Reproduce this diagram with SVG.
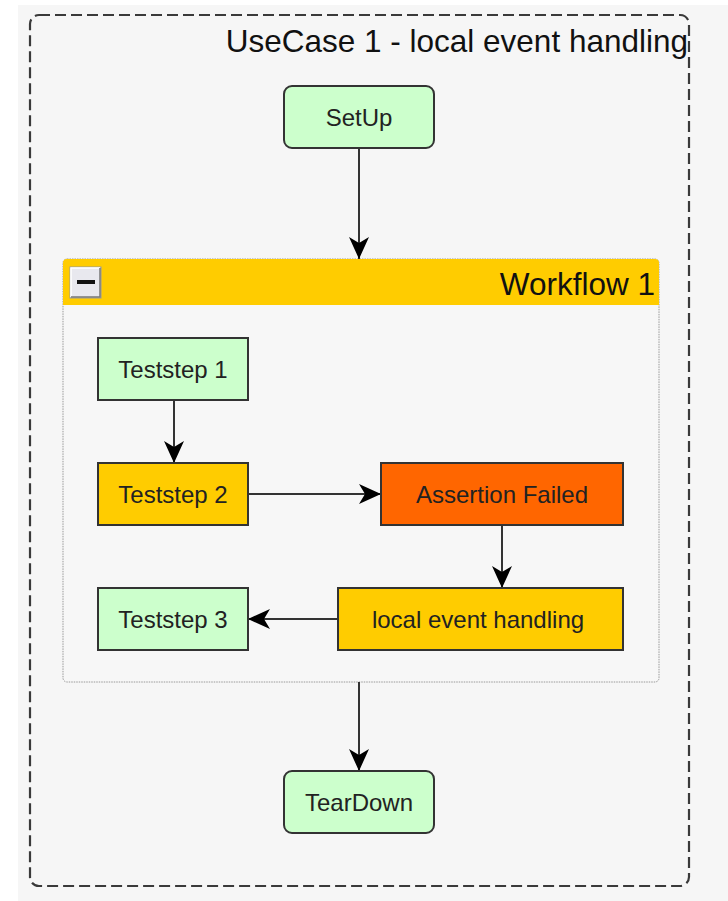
<svg xmlns="http://www.w3.org/2000/svg" width="728" height="901" viewBox="0 0 728 901">
  <style>
    .lbl { font-family: "Liberation Sans", Arial, sans-serif; font-size: 24px; fill: #222; text-anchor: middle; }
    .title { font-family: "Liberation Sans", Arial, sans-serif; font-size: 31.5px; fill: #111; text-anchor: end; }
    .box { stroke: #333; stroke-width: 2; }
    .green { fill: #ccffcc; }
    .amber { fill: #ffcc00; }
    .red { fill: #ff6600; }
    .edge { fill: none; stroke: #333; stroke-width: 2; marker-end: url(#arrow); }
  </style>
  <defs>
    <marker id="arrow" viewBox="0 0 22 20" refX="22" refY="10" markerWidth="22" markerHeight="20" markerUnits="userSpaceOnUse" orient="auto">
      <path d="M0,0 L22,10 L0,20 L6,10 z" fill="#000"/>
    </marker>
  </defs>

  <!-- page background -->
  <rect x="18" y="5" width="710" height="896" fill="#f6f6f6"/>

  <!-- use case frame -->
  <g id="usecase">
    <rect x="30" y="15" width="659" height="871" rx="9" fill="none" stroke="#3a3a3a" stroke-width="2.2" stroke-dasharray="11 5"/>
    <text class="title" x="688" y="52">UseCase 1 - local event handling</text>
  </g>

  <!-- workflow container -->
  <g id="workflow">
    <rect x="63" y="259" width="596" height="423" rx="4" fill="#f7f7f7" stroke="#999" stroke-width="1" stroke-dasharray="1.5 1"/>
    <path d="M63,305 V263 a4,4 0 0 1 4,-4 H655 a4,4 0 0 1 4,4 V305 z" fill="#ffcc00"/>
    <text class="title" x="655" y="295">Workflow 1</text>
    <g id="collapse-button">
      <rect x="70" y="267" width="31" height="31" fill="#e8e8ee" stroke="#999" stroke-width="1"/>
      <path d="M71,297 V268 H100" fill="none" stroke="#fff" stroke-width="1.5"/>
      <path d="M71,297 H100 V268" fill="none" stroke="#777" stroke-width="1.5"/>
      <rect x="77" y="280" width="18" height="4" fill="#111"/>
    </g>
  </g>

  <!-- connectors -->
  <g id="edges">
    <path class="edge" d="M359,148 V259"/>
    <path class="edge" d="M174,400 V463"/>
    <path class="edge" d="M248,494 H381"/>
    <path class="edge" d="M502,525 V588"/>
    <path class="edge" d="M338,619 H248"/>
    <path class="edge" d="M359,682 V771"/>
  </g>

  <g id="setup">
    <rect class="box green" x="284" y="86" width="150" height="62" rx="8"/>
    <text class="lbl" x="359" y="126">SetUp</text>
  </g>

  <g id="teststep1">
    <rect class="box green" x="98" y="338" width="150" height="62"/>
    <text class="lbl" x="173" y="378">Teststep 1</text>
  </g>

  <g id="teststep2">
    <rect class="box amber" x="98" y="463" width="150" height="62"/>
    <text class="lbl" x="173" y="503">Teststep 2</text>
  </g>

  <g id="assertion-failed">
    <rect class="box red" x="381" y="463" width="242" height="62"/>
    <text class="lbl" x="502" y="503">Assertion Failed</text>
  </g>

  <g id="local-event-handling">
    <rect class="box amber" x="338" y="588" width="285" height="62"/>
    <text class="lbl" x="478" y="628">local event handling</text>
  </g>

  <g id="teststep3">
    <rect class="box green" x="98" y="588" width="150" height="62"/>
    <text class="lbl" x="173" y="628">Teststep 3</text>
  </g>

  <g id="teardown">
    <rect class="box green" x="284" y="771" width="150" height="62" rx="8"/>
    <text class="lbl" x="359" y="811">TearDown</text>
  </g>
</svg>
